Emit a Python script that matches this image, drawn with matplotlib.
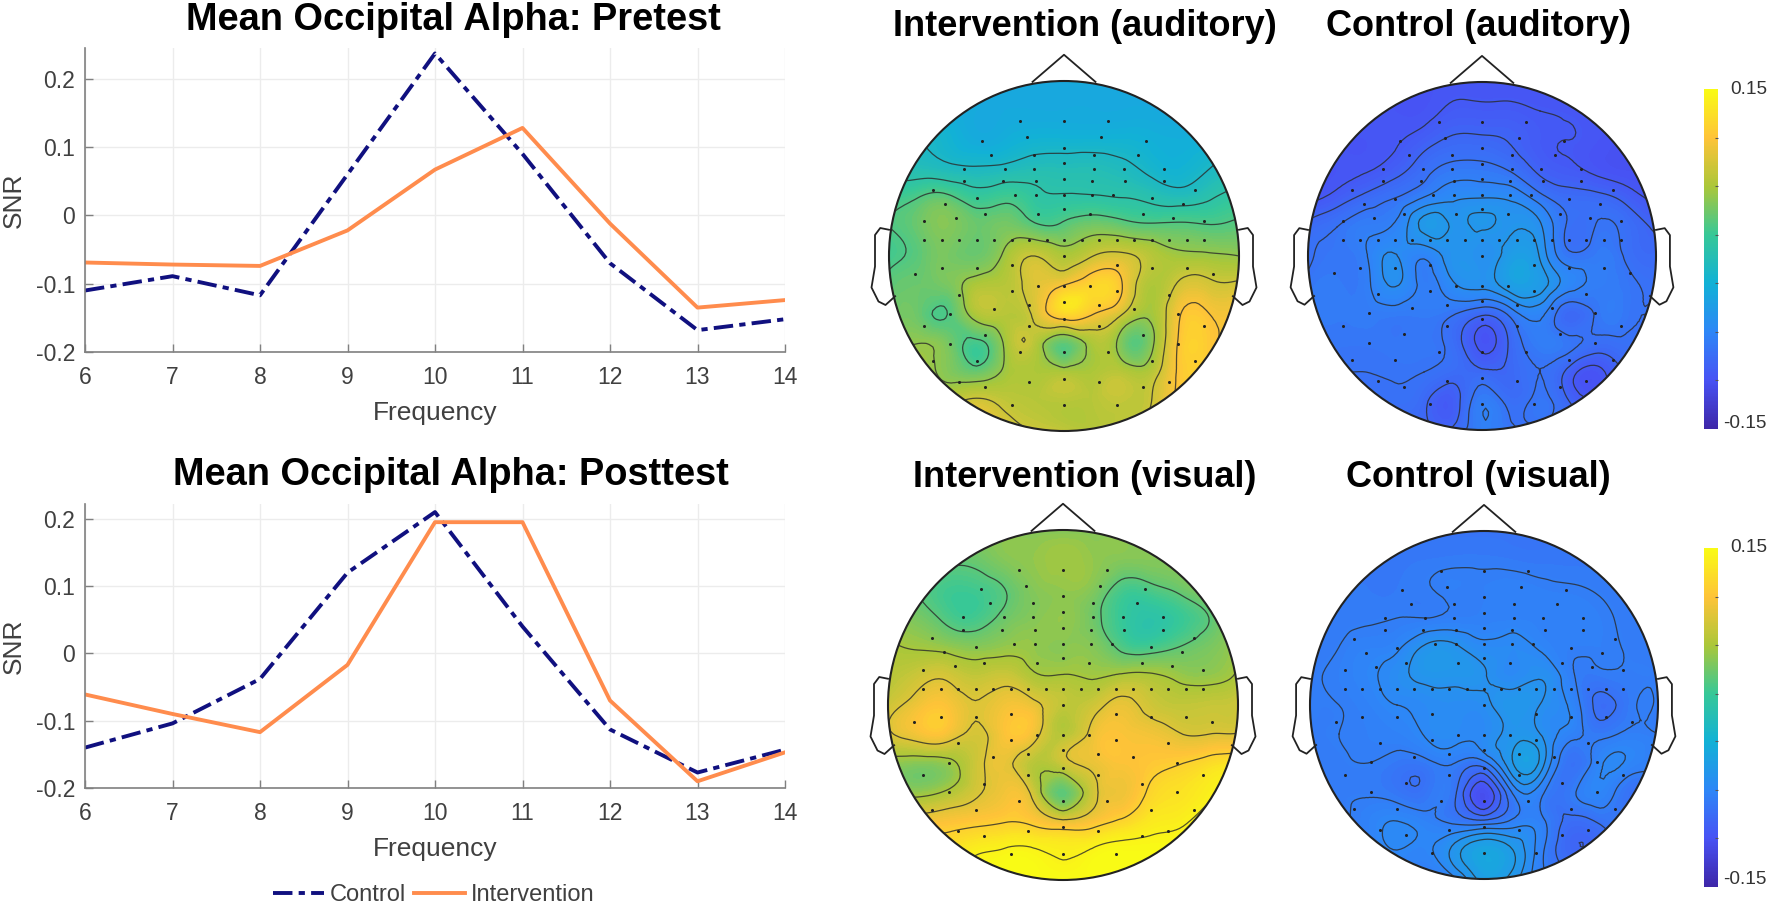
import numpy as np
import matplotlib
matplotlib.use("Agg")
import matplotlib.pyplot as plt
import matplotlib.tri as mtri
from matplotlib.colors import LinearSegmentedColormap, Normalize
from matplotlib.cm import ScalarMappable
from matplotlib.lines import Line2D
from matplotlib.patches import Circle

plt.rcParams['font.family'] = ['Liberation Sans', 'DejaVu Sans']

W, H = 1771, 907

freq = [6, 7, 8, 9, 10, 11, 12, 13, 14]
pre_control = [-0.11, -0.089, -0.117, 0.06, 0.237, 0.09, -0.07, -0.168, -0.152]
pre_intervention = [-0.069, -0.072, -0.074, -0.022, 0.067, 0.128, -0.012, -0.135, -0.124]
post_control = [-0.14, -0.104, -0.038, 0.12, 0.21, 0.04, -0.113, -0.177, -0.143]
post_intervention = [-0.061, -0.09, -0.117, -0.017, 0.195, 0.195, -0.07, -0.19, -0.147]

# matlab parula(8)
parula_colors = [(0.2422, 0.1504, 0.6603), (0.2810, 0.3228, 0.9579), (0.1786, 0.5289, 0.9682),
                 (0.0689, 0.6948, 0.8394), (0.2161, 0.7843, 0.5923), (0.6720, 0.7793, 0.2227),
                 (0.9970, 0.7659, 0.2199), (0.9769, 0.9839, 0.0805)]

# scalp maps, SNR x 100, rows top to bottom of the head, columns left to right
int_aud = [
    [-3, -3, -3, -3, -3, -3, -3, -3, -3, -3, -3, -3, -3],
    [-2, -2, -2.5, -3, -3, -3, -3, -3, -3, -3, -3, -2, -2],
    [-1, -1, -1.8, -2.8, -2.5, -2, -2, -2, -2, -2.3, -2.5, -2, -1],
    [0, 0, -.5, -.8, -.5, 0, 0, 0, -.5, -1.5, -2, -1, 0],
    [2, 3, 3.5, 2, 2.5, 1.5, 1.2, 1.2, 1, .5, 0, .8, 1.8],
    [3, 4, 5, 4, 4.5, 3.5, 3.5, 4.5, 4, 3.5, 3.5, 3.2, 3.5],
    [2.5, 3.5, 4.5, 4, 6, 8, 6.5, 8, 8.5, 7, 6, 5.8, 5.5],
    [3.5, 4, 4.5, 6.5, 7, 9, 10.5, 12, 10.5, 6.5, 8.5, 8.5, 8.5],
    [4, 4, 3, 6.5, 7, 8.5, 12, 10.5, 8, 6, 10.5, 10.5, 10.5],
    [5.5, 5.5, 4.5, 2.5, 6, 7, 3.5, 6.5, 4.5, 5, 11, 11, 10.5],
    [6, 6, 5, 4, 6, 6.5, 6.5, 6.5, 7, 7, 11, 11, 10.5],
    [7, 7.5, 7.5, 8.5, 7.5, 7, 7, 7, 7.5, 8, 11, 11, 10.5],
    [10.5, 10.5, 10.5, 10.5, 9, 8, 7.5, 7, 7.5, 8.5, 10.5, 10.5, 10.5],
]
con_aud = [
    [-10.5] * 13,
    [-10.5, -10.5, -10.5, -10.5, -10.5, -10, -10, -10, -10.2, -10.3, -10.5, -10.5, -10.5],
    [-10.5, -10.5, -10.5, -10.3, -9.7, -9, -9, -9.3, -10, -10.2, -10.5, -10.8, -10.8],
    [-10.5, -10.5, -10.3, -9.7, -8.5, -7.6, -7.6, -8.2, -9.5, -10, -10.5, -10.8, -10.8],
    [-10.5, -9.8, -8.8, -8, -6.8, -6, -5.8, -6, -7.5, -8.6, -8.8, -9.6, -10.5],
    [-8.8, -8, -7.2, -6.7, -4.6, -5, -4.8, -5, -5.6, -8.2, -7.9, -8.4, -9.4],
    [-8.2, -7.7, -7, -5.7, -6.7, -5.2, -5.5, -4.2, -5, -7.7, -7.4, -8.2, -8.7],
    [-7.7, -7.4, -7.2, -5.7, -7.2, -6, -5.5, -4.1, -4.4, -6.4, -7.2, -7.7, -8.2],
    [-7.5, -7.4, -7.4, -7.4, -7.4, -7.9, -9, -7.6, -6.6, -8.9, -7.7, -7.7, -7.9],
    [-7.7, -7.7, -7.7, -7.7, -7.7, -8.5, -10.5, -8.9, -7.2, -7.7, -8.4, -8.2, -8.2],
    [-8, -8, -8, -7.9, -8, -8.6, -8.9, -8.9, -8, -9.6, -10.5, -8.9, -8.4],
    [-8.2, -8.2, -8.2, -8.2, -8.9, -9.8, -7.2, -8.4, -7.7, -9.2, -9.9, -8.9, -8.8],
    [-8.9, -8.9, -8.9, -8.9, -8.9, -8.9, -7, -7.8, -8.3, -8.9, -8.9, -8.9, -8.9],
]
int_vis = [
    [5] * 13,
    [4.5, 4.5, 4, 4, 5, 5.5, 6, 5.5, 5, 5, 5, 5, 5],
    [4, 3.5, 2.5, 2.5, 3.5, 5, 5.5, 5, 2.8, 3, 4, 5, 5],
    [5, 4.5, 3, 2.5, 4, 5, 5.5, 4.2, 2, 1, 2, 3.5, 5.5],
    [6.5, 6, 5.5, 5, 5.5, 5.5, 5.2, 5, 3, 2.5, 3.5, 4.5, 6],
    [7, 8, 8.5, 7.5, 8, 6.5, 6.3, 6, 6.5, 6.5, 5.7, 5.5, 6.5],
    [8, 9.8, 10.5, 9, 10, 9.5, 7.5, 8, 9.5, 8.2, 7.5, 7.7, 8],
    [8.5, 10, 10.2, 8.5, 10.5, 9.8, 7, 9.5, 10.5, 10, 9, 8.9, 9],
    [5.5, 5, 5.5, 8, 9.5, 7, 8, 9.5, 10.5, 11, 11.5, 12.5, 13],
    [6, 5.5, 6.5, 8.5, 10, 8, 3.5, 8, 9.8, 12, 13, 14, 14.5],
    [10, 10, 10.5, 11, 11.5, 11, 9.5, 10.5, 12, 13.5, 14, 15, 15],
    [13, 13, 13, 14, 14.5, 14.5, 14, 14.5, 15, 15, 15, 15, 15],
    [15] * 13,
]
con_vis = [
    [-7.8] * 13,
    [-7.6, -7.6, -7.6, -7.6, -7.5, -7.4, -7.4, -7.5, -7.6, -7.6, -7.6, -7.6, -7.6],
    [-7.5, -7.5, -7.5, -7.5, -7.3, -7, -7, -6.9, -7, -7.1, -7.3, -7.5, -7.6],
    [-7.5, -7.4, -7.3, -7.2, -7.2, -7, -6.9, -6.8, -6.8, -6.8, -7, -7.4, -7.5],
    [-7.4, -7.2, -6.8, -6.5, -5.2, -5.2, -6, -6, -6.5, -7, -7, -7.3, -7.5],
    [-7.3, -7, -6.5, -5.8, -5, -5, -5.3, -6, -5.5, -7, -7.5, -7.3, -7.3],
    [-7.2, -7.2, -6.8, -6.3, -6, -5.8, -5.7, -4.8, -5.5, -6.5, -8.5, -7.5, -7.3],
    [-7.3, -7.2, -7, -6.8, -6.2, -6, -6, -5, -5.5, -6.8, -7.5, -7, -7.2],
    [-7.4, -7.3, -7.2, -7.6, -7.5, -7.2, -7.5, -4.5, -5, -8, -6.5, -6.5, -7],
    [-7.4, -7.3, -7.3, -7.7, -7.8, -8, -11, -7, -7, -7.5, -6.5, -8, -7.3],
    [-7.3, -7.3, -6.8, -6.3, -6.8, -7.5, -8, -7, -7, -8.5, -8, -7.5, -7.3],
    [-7.3, -7.3, -7, -6.3, -6.5, -5, -3.5, -4.5, -7, -9, -8.8, -7.5, -7.3],
    [-7.3, -7.3, -7.2, -7, -7, -6.5, -4, -5, -7, -7.5, -7.5, -7.3, -7.3],
]
int_aud_levels = [-1, 1, 3, 5.5, 8, 10.5]
con_aud_levels = [-10.2, -9.2, -8, -6.9, -5.8, -4.9]
int_vis_levels = [0.8, 3.5, 6.2, 8.9, 11.6, 14.3]
con_vis_levels = [-10.2, -9.2, -8.2, -7.2, -6.3, -5.4, -4.5]

# electrode positions on the unit head
elec_x = [0, -.25, .25, -.21, .21, -.47, .47, 0, -.17, .17, -.42, .42, 0, -.17, .17, -.34, .34, -.57, .57,
          0, -.16, .16, -.35, .35, -.57, .57, -.75, .75, 0, -.16, .16, -.28, .28, -.5, .5, -.68, .68,
          0, -.15, .15, -.45, .45, -.62, .62, -.8, .8,
          -.8, -.7, -.6, -.5, -.4, -.3, -.2, -.1, 0, .1, .2, .3, .4, .5, .6, .7, .8,
          0, -.3, .3, -.5, .5, -.7, .7, -.85, .85, 0, -.15, .15, -.3, .3, -.6, .6,
          0, -.2, .2, -.4, .4, -.65, .65, -.8, .8, 0, -.2, .2, -.45, .45, -.65, .65,
          0, -.25, .25, -.5, .5, -.75, .75, 0, -.2, .2, -.45, .45, -.6, .6, 0, -.3, .3]
elec_y = [.77, .77, .77, .68, .68, .66, .66, .62, .58, .58, .58, .58, .53, .5, .5, .5, .5, .5, .5,
          .44, .43, .43, .43, .43, .43, .43, .38, .38, .35, .35, .35, .35, .35, .33, .33, .3, .3,
          .27, .24, .24, .24, .24, .22, .22, .2, .2,
          .09, .09, .09, .09, .09, .09, .09, .09, .09, .09, .09, .09, .09, .09, .09, .09, .09,
          0, -.05, -.05, -.07, -.07, -.07, -.07, -.1, -.1, -.17, -.17, -.17, -.2, -.2, -.22, -.22,
          -.26, -.28, -.28, -.3, -.3, -.33, -.33, -.4, -.4, -.36, -.4, -.4, -.45, -.45, -.5, -.5,
          -.55, -.55, -.55, -.6, -.6, -.6, -.6, -.7, -.72, -.72, -.75, -.75, -.72, -.72, -.85, -.85, -.85]

ear_x = [-1.0, -1.05, -1.08, -1.08, -1.1, -1.06, -1.02, -.965]
ear_y = [.15, .16, .12, -.06, -.18, -.26, -.28, -.23]
nose_x = [-.18, 0, .18]
nose_y = [.995, 1.15, .995]

cbar_ticks = [-0.107, -0.064, -0.021, 0.021, 0.064, 0.107]

cmap = LinearSegmentedColormap.from_list('parula8', parula_colors, N=256)
norm = Normalize(-15, 15)
fig = plt.figure(figsize=(W / 100, H / 100), dpi=100)


def px_axes(x0, y0, x1, y1):
    return fig.add_axes([x0 / W, 1 - y1 / H, (x1 - x0) / W, (y1 - y0) / H])


def line_panel(box, control, intervention, ymax, title, title_x, title_y):
    ax = px_axes(*box)
    ax.plot(freq, control, color='#10107f', lw=2.8, dashes=(5, 1.6, 1.6, 1.6))
    ax.plot(freq, intervention, color='#ff8c4d', lw=2.8)
    ax.set_xlim(6, 14)
    ax.set_ylim(-0.2, ymax)
    ax.set_xticks(freq)
    ax.set_yticks([-0.2, -0.1, 0, 0.1, 0.2], ['-0.2', '-0.1', '0', '0.1', '0.2'])
    ax.grid(color='#ececec', lw=1)
    ax.set_axisbelow(True)
    ax.spines[['top', 'right']].set_visible(False)
    ax.spines[['left', 'bottom']].set_color('#808080')
    ax.spines[['left', 'bottom']].set_linewidth(1.2)
    ax.tick_params(direction='in', length=6, width=1, color='#808080', labelcolor='#404040', labelsize=16.5)
    ax.tick_params(axis='x', pad=10)
    ax.tick_params(axis='y', pad=7)
    ax.set_xlabel('Frequency', fontsize=19, color='#404040', labelpad=9)
    ax.set_ylabel('SNR', fontsize=19, color='#404040', labelpad=7)
    fig.text(title_x / W, 1 - title_y / H, title, fontsize=27.4, fontweight='bold', ha='center', va='center')
    return ax


def head(cx, cy, r, grid, levels, title, title_x, title_y):
    pad = 1.25
    ax = px_axes(cx - pad * r, cy - pad * r, cx + pad * r, cy + pad * r)
    ax.set_xlim(-pad, pad)
    ax.set_ylim(-pad, pad)
    ax.axis('off')
    gx, gy = np.meshgrid(np.linspace(-1, 1, 13), np.linspace(1, -1, 13))
    tri = mtri.Triangulation(gx.ravel(), gy.ravel())
    refiner = mtri.UniformTriRefiner(tri)
    fine, vals = refiner.refine_field(np.array(grid, dtype=float).ravel(), subdiv=3)
    clip = Circle((0, 0), 1, transform=ax.transData)
    cf = ax.tricontourf(fine, vals, levels=np.linspace(-15, 15, 121), cmap=cmap, norm=norm, extend='both')
    cf.set_clip_path(clip)
    cl = ax.tricontour(fine, vals, levels=levels, colors='#2a2a2a', linewidths=0.9, alpha=0.8, linestyles='solid')
    cl.set_clip_path(clip)
    ax.plot(elec_x, elec_y, ls='none', marker='o', ms=2.2, color='#222222', mew=0)
    ax.add_patch(Circle((0, 0), 1, fill=False, ec='#222222', lw=1.5))
    ax.plot(nose_x, nose_y, color='#222222', lw=1.3)
    ax.plot(ear_x, ear_y, color='#222222', lw=1.3)
    ax.plot(-np.array(ear_x), ear_y, color='#222222', lw=1.3)
    fig.text(title_x / W, 1 - title_y / H, title, fontsize=26, fontweight='bold', ha='center', va='center')


def colorbar(x0, y0, x1, y1, top_y, bottom_y):
    cax = px_axes(x0, y0, x1, y1)
    cb = fig.colorbar(ScalarMappable(norm=Normalize(-0.15, 0.15), cmap=cmap), cax=cax)
    cb.outline.set_visible(False)
    cb.set_ticks(cbar_ticks, labels=[''] * len(cbar_ticks))
    cb.ax.tick_params(direction='in', length=2, width=0.8, color='#555555')
    fig.text(1767 / W, 1 - top_y / H, '0.15', fontsize=13.7, color='#333333', ha='right', va='center')
    fig.text(1767 / W, 1 - bottom_y / H, '-0.15', fontsize=13.7, color='#333333', ha='right', va='center')


line_panel((85, 48, 785, 352), pre_control, pre_intervention, 0.245, 'Mean Occipital Alpha: Pretest', 453, 20)
line_panel((85, 504, 785, 788), post_control, post_intervention, 0.222, 'Mean Occipital Alpha: Posttest', 451, 475)

head(1064, 256, 175, int_aud, int_aud_levels, 'Intervention (auditory)', 1085, 27)
head(1482, 256, 174, con_aud, con_aud_levels, 'Control (auditory)', 1478, 27)
head(1063, 705, 175, int_vis, int_vis_levels, 'Intervention (visual)', 1085, 478)
head(1484, 705, 174, con_vis, con_vis_levels, 'Control (visual)', 1478, 478)

colorbar(1704, 89, 1718, 429, 90, 423)
colorbar(1704, 548, 1718, 887, 548, 880)

handles = [Line2D([], [], color='#10107f', lw=2.8, dashes=(5, 1.6, 1.6, 1.6)),
           Line2D([], [], color='#ff8c4d', lw=2.8)]
fig.legend(handles, ['Control', 'Intervention'], ncol=2, frameon=False, fontsize=17,
           labelcolor='#404040', handlelength=2.15, handletextpad=0.25, columnspacing=0.35,
           loc='center', bbox_to_anchor=(434 / W, 1 - 895 / H))

fig.savefig('out.png', dpi=100)
